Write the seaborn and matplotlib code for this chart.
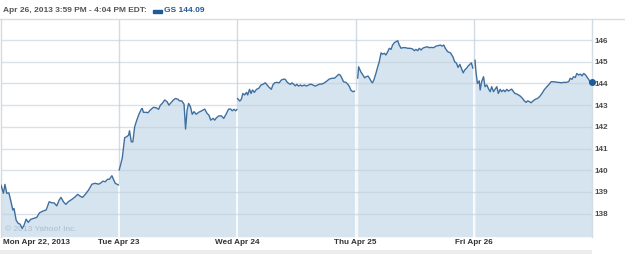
import matplotlib
matplotlib.use("Agg")
import matplotlib.pyplot as plt
import matplotlib.transforms as mtransforms
import seaborn as sns
import pandas as pd
from matplotlib.patches import Rectangle
from matplotlib.lines import Line2D

# ---------------- data (minutes since 9:30 open, price) ----------------
days = ["Mon Apr 22, 2013", "Tue Apr 23", "Wed Apr 24", "Thu Apr 25", "Fri Apr 26"]

mon_min = [0, 8, 13, 19, 26, 33, 39, 43, 50, 57, 63, 70, 76, 83, 90, 98, 107, 118, 127, 138,
           149, 159, 168, 175, 184, 192, 198, 206, 214, 222, 234, 245, 253, 261, 269, 278, 289,
           300, 311, 322, 330, 336, 344, 351, 358, 366, 371, 377, 388]
mon_px = [139.32, 138.94, 139.35, 138.94, 138.96, 138.55, 138.17, 138.24, 137.70, 137.55, 137.52,
          137.32, 137.47, 137.75, 137.60, 137.74, 137.78, 137.83, 138.04, 138.12, 138.17, 138.55,
          138.50, 138.50, 138.36, 138.63, 138.75, 138.55, 138.43, 138.55, 138.66, 138.78, 138.89,
          138.81, 138.75, 138.89, 139.09, 139.36, 139.40, 139.36, 139.42, 139.50, 139.47, 139.58,
          139.59, 139.75, 139.58, 139.40, 139.32]

tue_min = [0, 10, 18, 25, 31, 34, 40, 45, 51, 58, 65, 73, 76, 80, 89, 95, 102, 113, 122, 130,
           136, 142, 150, 158, 164, 172, 179, 186, 194, 199, 207, 214, 219, 224, 229, 235, 241,
           247, 254, 262, 271, 282, 290, 296, 302, 310, 315, 321, 328, 337, 345, 354, 361, 368,
           373, 379, 384, 389]
tue_px = [140.01, 140.55, 141.50, 141.55, 141.62, 141.82, 141.31, 141.31, 142.00, 142.31, 142.58,
          142.81, 142.85, 142.67, 142.67, 142.65, 142.77, 142.90, 142.88, 142.81, 143.00, 143.08,
          143.24, 143.16, 143.00, 143.13, 143.24, 143.31, 143.27, 143.20, 143.19, 143.04, 141.90,
          142.77, 143.08, 142.93, 142.58, 142.70, 142.58, 142.67, 142.73, 142.82, 142.62, 142.54,
          142.31, 142.39, 142.31, 142.42, 142.50, 142.51, 142.39, 142.62, 142.82, 142.82, 142.74,
          142.81, 142.74, 142.81]

wed_min = [0, 8, 13, 18, 24, 30, 34, 40, 45, 50, 56, 63, 70, 78, 84, 92, 98, 105, 112, 117,
           123, 130, 138, 145, 153, 158, 163, 169, 175, 180, 185, 191, 196, 202, 208, 213, 221,
           227, 235, 242, 249, 257, 265, 271, 279, 287, 295, 303, 312, 320, 326, 334, 339, 345,
           350, 358, 364, 370, 374, 381, 387]
wed_px = [143.31, 143.19, 143.27, 143.54, 143.47, 143.59, 143.47, 143.73, 143.54, 143.70, 143.59,
          143.73, 143.77, 143.93, 143.96, 144.03, 143.93, 143.82, 143.73, 143.93, 144.03, 144.05,
          144.03, 144.16, 144.20, 144.19, 144.08, 144.00, 143.96, 144.03, 143.97, 143.89, 143.96,
          143.88, 143.93, 143.88, 143.93, 143.88, 143.93, 143.97, 143.93, 143.88, 143.93, 143.97,
          143.97, 144.03, 144.11, 144.20, 144.24, 144.24, 144.31, 144.42, 144.39, 144.24, 144.08,
          144.05, 143.97, 143.85, 143.70, 143.62, 143.65]

thu_min = [7, 10, 17, 24, 30, 35, 41, 46, 52, 56, 61, 67, 73, 78, 84, 89, 95, 100, 106, 111,
           117, 122, 128, 133, 139, 144, 150, 156, 164, 172, 180, 188, 194, 199, 205, 210, 216,
           221, 228, 236, 243, 250, 258, 265, 272, 280, 285, 291, 296, 304, 313, 321, 327, 333,
           338, 344, 349, 355, 360, 366, 371, 377, 382, 387]
thu_px = [144.24, 144.77, 144.54, 144.39, 144.26, 144.31, 144.34, 144.24, 144.08, 144.03, 144.19,
          144.46, 144.77, 145.00, 145.41, 145.35, 145.39, 145.31, 145.46, 145.62, 145.57, 145.77,
          145.88, 145.92, 145.97, 145.77, 145.62, 145.65, 145.65, 145.62, 145.62, 145.59, 145.51,
          145.57, 145.51, 145.62, 145.54, 145.62, 145.66, 145.69, 145.65, 145.66, 145.65, 145.72,
          145.74, 145.77, 145.72, 145.77, 145.62, 145.46, 145.41, 145.23, 145.00, 144.93, 144.74,
          144.88, 144.70, 144.49, 144.62, 144.70, 144.80, 144.88, 144.95, 144.70]

fri_min = [4, 7, 12, 18, 21, 26, 32, 37, 43, 48, 54, 59, 65, 70, 76, 81, 87, 92, 98, 103, 109,
           114, 120, 125, 131, 136, 144, 153, 161, 167, 173, 178, 184, 189, 195, 203, 210, 217,
           225, 232, 241, 249, 255, 263, 272, 280, 288, 296, 305, 313, 318, 324, 329, 335, 340,
           346, 352, 357, 363, 369, 374, 379, 387, 390]
fri_px = [145.08, 144.54, 144.00, 144.12, 143.70, 144.08, 144.31, 143.85, 143.93, 143.77, 143.62,
          143.85, 143.62, 143.73, 143.85, 143.54, 143.73, 143.62, 143.70, 143.62, 143.73, 143.65,
          143.70, 143.74, 143.62, 143.54, 143.50, 143.42, 143.31, 143.19, 143.13, 143.20, 143.16,
          143.11, 143.19, 143.27, 143.31, 143.39, 143.54, 143.70, 143.85, 143.97, 144.08, 144.08,
          144.06, 144.05, 144.03, 144.05, 144.05, 144.08, 144.24, 144.19, 144.31, 144.28, 144.46,
          144.39, 144.43, 144.35, 144.46, 144.39, 144.28, 144.19, 143.96, 144.09]

y_ticks = [138, 139, 140, 141, 142, 143, 144, 145, 146]
header_text = "Apr 26, 2013 3:59 PM - 4:04 PM EDT:"
legend_text = "GS 144.09"
watermark = "\u00a9 2013 Yahoo! Inc."

SESSION = 390.0
series = [(mon_min, mon_px), (tue_min, tue_px), (wed_min, wed_px), (thu_min, thu_px), (fri_min, fri_px)]
rows = []
for d, (mins, pxs) in enumerate(series):
    for m, p in zip(mins, pxs):
        rows.append({"day": d, "x": d + m / SESSION, "price": p})
df = pd.DataFrame(rows)

# ---------------- figure ----------------
sns.set_theme(style="white")
plt.rcParams["font.family"] = ["Liberation Sans", "DejaVu Sans"]

W, H = 625, 254
fig = plt.figure(figsize=(W / 100, H / 100), dpi=100)
fig.patch.set_facecolor("white")
ax_l, ax_r, ax_t, ax_b = 1, 592, 19, 236.7
ax = fig.add_axes([ax_l / W, 1 - ax_b / H, (ax_r - ax_l) / W, (ax_b - ax_t) / H])
ax.set_facecolor("white")

YMIN, YMAX = 136.94, 146.97
ax.set_xlim(0, 5)
ax.set_ylim(YMIN, YMAX)

LINE = "#3f6f9f"
FILL = "#d6e4ef"

# vertical day separators (grey on white)
for d in range(1, 5):
    ax.axvline(d, color="#d3dbe3", lw=1.0, zorder=0.5)

# area fill per day
for d in range(5):
    sub = df[df["day"] == d]
    ax.fill_between(sub["x"], sub["price"], YMIN, color=FILL, lw=0, zorder=1)

# white separators inside filled area
for d in range(1, 5):
    prev = df[df["day"] == d - 1]["price"].iloc[-1]
    nxt = df[df["day"] == d]["price"].iloc[0]
    ax.plot([d, d], [YMIN, min(prev, nxt)], color="white", lw=1.2, zorder=1.5)

# horizontal gridlines
for t in y_ticks:
    ax.axhline(t, color="#c3d1de", lw=1.0, alpha=0.65, zorder=1.7)

sns.lineplot(data=df, x="x", y="price", units="day", estimator=None, color=LINE,
             lw=1.0, ax=ax, zorder=3, legend=False)

# end marker
last = df.iloc[-1]
ax.plot([last["x"] - 0.004], [last["price"]], marker="o", ms=4, color="#1f5b94", zorder=4,
        clip_on=False)

# axes styling
for s in ["top", "bottom"]:
    ax.spines[s].set_visible(False)
for s in ["left", "right"]:
    ax.spines[s].set_visible(True)
    ax.spines[s].set_color("#d3dbe3")
    ax.spines[s].set_linewidth(1.0)

ax.set_xlabel("")
ax.set_ylabel("")
ax.yaxis.tick_right()
ax.set_yticks(y_ticks)
ax.set_yticklabels([str(t) for t in y_ticks], fontsize=5.9, fontweight="bold", color="#4a4a4a")
ax.set_xticks(range(5))
ax.set_xticklabels(days, fontsize=5.9, fontweight="bold", color="#333333")
ax.tick_params(axis="both", length=0)
ax.tick_params(axis="y", pad=2)
ax.tick_params(axis="x", pad=1.5)
first = ax.get_xticklabels()[0]
first.set_horizontalalignment("left")
first.set_transform(first.get_transform() +
                    mtransforms.ScaledTranslation(2 / 100, 0, fig.dpi_scale_trans))

# watermark
ax.text(4 / 591, 0.015, watermark, transform=ax.transAxes, fontsize=6.0,
        color="#aabdcf", ha="left", va="bottom", zorder=2)

# header
fig.add_artist(Line2D([0, 1], [1 - 19 / H, 1 - 19 / H], color="#dcdcdc", lw=1.0,
                      transform=fig.transFigure))
fig.text(3 / W, 1 - 11 / H, header_text, fontsize=6.0, fontweight="bold", color="#555555",
         ha="left", va="center")
fig.add_artist(Rectangle((153 / W, 1 - 13 / H), 9 / W, 3 / H, color="#1f5b94",
                         transform=fig.transFigure))
fig.text(164 / W, 1 - 11 / H, legend_text, fontsize=6.0, fontweight="bold", color="#1f5b94",
         ha="left", va="center")

# bottom band
fig.add_artist(Rectangle((0, 0), 592 / W, 4 / H, color="#ececec", transform=fig.transFigure,
                         lw=0))

fig.savefig("out.png", dpi=100)
